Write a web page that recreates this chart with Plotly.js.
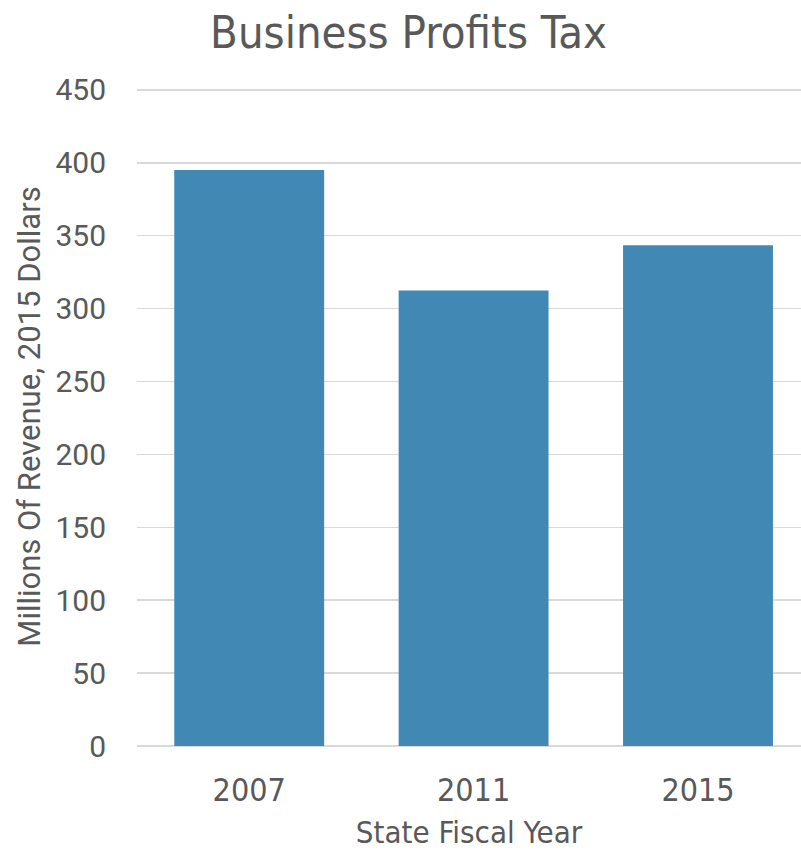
<!DOCTYPE html>
<html>
<head>
<meta charset="utf-8">
<script src="https://cdn.plot.ly/plotly-3.0.1.min.js"></script>
<style>html,body{margin:0;padding:0;background:#fff;}#chart{width:801px;height:850px;}</style>
</head>
<body>
<div id="chart"></div>
<script>
const years = ["2007", "2011", "2015"];
const revenue = [395, 312.5, 343.5];
const yTicks = [0, 50, 100, 150, 200, 250, 300, 350, 400, 450];

const narrow = "'DejaVu Sans Condensed', 'Liberation Sans Narrow', sans-serif";
const roboto = "Roboto, sans-serif";
const textColor = "#595959";

const data = [{
  type: "bar",
  x: [0, 1, 2],
  y: revenue,
  width: 0.668,
  marker: {color: "#4189b4"},
  hoverinfo: "skip"
}];

const layout = {
  width: 801,
  height: 850,
  margin: {l: 137, r: 0, t: 87, b: 104},
  paper_bgcolor: "#ffffff",
  plot_bgcolor: "#ffffff",
  showlegend: false,
  title: {
    text: "Business Profits Tax",
    font: {family: narrow, size: 45, color: textColor},
    x: 0.51, xanchor: "center",
    y: 0.962, yanchor: "middle"
  },
  xaxis: {
    range: [-0.5, 2.459],
    tickmode: "array",
    tickvals: [0, 1, 2],
    ticktext: years,
    showgrid: false,
    zeroline: false,
    showline: false,
    ticks: "",
    ticklabelstandoff: 22,
    tickfont: {family: narrow, size: 32, color: textColor},
    title: {text: "State Fiscal Year", font: {family: narrow, size: 31, color: textColor}, standoff: 14}
  },
  yaxis: {
    range: [0, 452],
    tickmode: "array",
    tickvals: yTicks,
    ticktext: yTicks.map(String),
    showgrid: true,
    gridcolor: "#d9d9d9",
    gridwidth: 1.5,
    zeroline: true,
    zerolinecolor: "#d9d9d9",
    zerolinewidth: 2,
    showline: false,
    ticks: "",
    ticklabelstandoff: 30,
    tickfont: {family: roboto, size: 30, color: textColor},
    title: {text: "Millions Of Revenue, 2015 Dollars", font: {family: roboto, size: 31, color: textColor}, standoff: 5}
  }
};

Plotly.newPlot("chart", data, layout, {displayModeBar: false, staticPlot: true});
</script>
</body>
</html>
